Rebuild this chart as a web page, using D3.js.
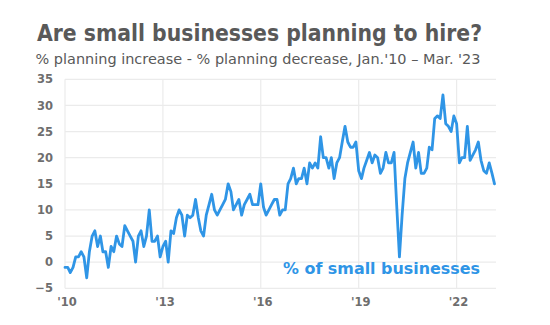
<!DOCTYPE html>
<html><head><meta charset="utf-8">
<script src="https://cdn.jsdelivr.net/npm/d3@7"></script>
<style>body{margin:0;background:#fff;} svg{display:block;}</style>
</head><body>
<svg id="c" width="550" height="325"></svg>
<script>
// Monthly net % (planning increase - planning decrease), Jan 2010 .. Mar 2023
const v2010 = [-1, -1, -2, -1, 1, 1, 2, 1, -3, 2, 5, 6];
const v2011 = [3, 5, 2, 2, -1, 3, 2, 5, 3.5, 3, 7, 6];
const v2012 = [5, 4, 0, 5, 6, 3, 5, 10, 4, 4, 5, 1];
const v2013 = [3, 4, 0, 6, 5.5, 8.5, 10, 9, 5, 9, 8.5, 9];
const v2014 = [12, 8.5, 6, 5, 9, 11, 13, 10, 9, 10, 11, 12];
const v2015 = [15, 13.5, 10, 11, 12, 9, 11, 12, 13, 11, 11, 11];
const v2016 = [15, 10.5, 9, 10, 11, 12, 12, 9, 10, 10, 15, 16];
const v2017 = [18, 15, 16, 16, 18, 15, 19, 18, 19, 18, 24, 20];
const v2018 = [20, 18, 20, 16, 19, 20, 23, 26, 23, 22, 22, 23];
const v2019 = [17.5, 16, 18, 19.5, 21, 19, 20.5, 20, 17, 18, 21, 19];
const v2020 = [19, 21, 11, 1, 9, 16, 19, 21, 23, 18, 21, 17];
const v2021 = [17, 18, 22, 21.5, 27.5, 28, 27.5, 32, 26.5, 26, 25, 28];
const v2022 = [26.5, 19, 20, 20, 26, 19.5, 20.5, 21.5, 23, 19.5, 17.5, 17];
const v2023 = [19, 17, 15];

const yTicks = [-5, 0, 5, 10, 15, 20, 25, 30, 35];
const xTickYears = [2010, 2013, 2016, 2019, 2022];
const xTickLabels = ["'10", "'13", "'16", "'19", "'22"];

const titleText = "Are small businesses planning to hire?";
const subtitleText = "% planning increase - % planning decrease, Jan.'10 \u2013 Mar. '23";
const seriesLabel = "% of small businesses";

const allValues = [].concat(v2010, v2011, v2012, v2013, v2014, v2015, v2016,
  v2017, v2018, v2019, v2020, v2021, v2022, v2023);
const data = allValues.map((v, i) => ({date: new Date(2010, i, 1), value: v}));

const FONT = "'DejaVu Sans', sans-serif";
const BLUE = "#2f95e6";
const TEXT = "#595959";

const svg = d3.select("#c");
const plotLeft = 65, plotRight = 496, plotTop = 79.3, plotBottom = 288.3;

const x = d3.scaleTime()
  .domain([new Date(2010, 0, 1), new Date(2023, 2, 1)])
  .range([plotLeft, 494.5]);
const y = d3.scaleLinear().domain([-5, 35]).range([plotBottom, plotTop]);

// gridlines
svg.append("g").selectAll("line").data(yTicks).join("line")
  .attr("x1", plotLeft).attr("x2", plotRight)
  .attr("y1", d => y(d)).attr("y2", d => y(d))
  .attr("stroke", "#ebebeb").attr("stroke-width", 1.2);
svg.append("g").selectAll("line").data(xTickYears).join("line")
  .attr("x1", d => x(new Date(d, 0, 1))).attr("x2", d => x(new Date(d, 0, 1)))
  .attr("y1", plotTop).attr("y2", plotBottom)
  .attr("stroke", "#ebebeb").attr("stroke-width", 1.2);

// y axis
const yAxis = svg.append("g").attr("transform", `translate(${plotLeft},0)`)
  .call(d3.axisLeft(y).tickValues(yTicks).tickSize(0).tickPadding(12));
yAxis.select(".domain").remove();
yAxis.selectAll("text").attr("font-family", FONT).attr("font-size", 11.5)
  .attr("font-weight", "bold").attr("fill", "#6e6e6e");

// x axis
const xAxis = svg.append("g").attr("transform", `translate(0,${plotBottom})`)
  .call(d3.axisBottom(x).tickValues(xTickYears.map(yy => new Date(yy, 0, 1)))
    .tickFormat((d, i) => xTickLabels[i]).tickSize(0).tickPadding(10));
xAxis.select(".domain").remove();
xAxis.selectAll("text").attr("font-family", FONT).attr("font-size", 11.5)
  .attr("font-weight", "bold").attr("fill", "#6e6e6e").attr("dx", 1.5);

// line
const line = d3.line().x(d => x(d.date)).y(d => y(d.value));
svg.append("path").datum(data)
  .attr("d", line).attr("fill", "none")
  .attr("stroke", BLUE).attr("stroke-width", 2.8)
  .attr("stroke-linejoin", "round").attr("stroke-linecap", "round");

// titles
svg.append("text").attr("x", 37).attr("y", 40.5).text(titleText)
  .attr("font-family", FONT).attr("font-size", 23).attr("font-weight", "bold")
  .attr("fill", TEXT).attr("textLength", 445).attr("lengthAdjust", "spacingAndGlyphs");
svg.append("text").attr("x", 35.5).attr("y", 63.5).text(subtitleText)
  .attr("font-family", FONT).attr("font-size", 13.5)
  .attr("fill", TEXT).attr("textLength", 445).attr("lengthAdjust", "spacingAndGlyphs");

// series annotation
svg.append("text").attr("x", 283).attr("y", 274).text(seriesLabel)
  .attr("font-family", FONT).attr("font-size", 15.5).attr("font-weight", "bold")
  .attr("fill", BLUE).attr("textLength", 197).attr("lengthAdjust", "spacingAndGlyphs");
</script>
</body></html>
